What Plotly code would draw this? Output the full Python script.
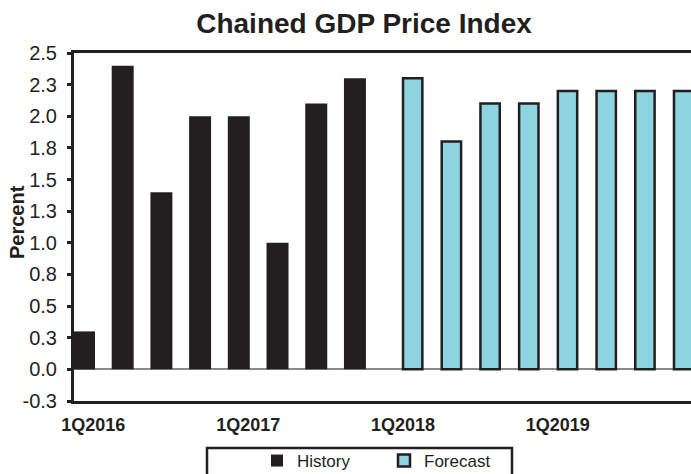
import plotly.graph_objects as go

# Quarterly chained GDP price index, percent change
quarters = [f"{q}Q{y}" for y in (2016, 2017, 2018, 2019) for q in (1, 2, 3, 4)]
history_quarters = quarters[:8]
history_values = [0.3, 2.4, 1.4, 2.0, 2.0, 1.0, 2.1, 2.3]
forecast_quarters = quarters[8:]
forecast_values = [2.3, 1.8, 2.1, 2.1, 2.2, 2.2, 2.2, 2.2]

y_tick_values = [2.5, 2.25, 2.0, 1.75, 1.5, 1.25, 1.0, 0.75, 0.5, 0.25, 0.0, -0.25]
y_tick_labels = ["2.5", "2.3", "2.0", "1.8", "1.5", "1.3", "1.0", "0.8", "0.5", "0.3", "0.0", "-0.3"]
x_label_quarters = ["1Q2016", "1Q2017", "1Q2018", "1Q2019"]

FONT = "Liberation Sans, Arial, sans-serif"
DARK = "#231f20"
BLUE = "#8dd4e0"

pos = {q: i for i, q in enumerate(quarters)}
hist_x = [pos[q] for q in history_quarters]
fc_x = [pos[q] for q in forecast_quarters]
label_x = [pos[q] for q in x_label_quarters]
boundaries = [i - 0.5 for i in range(len(quarters) + 1)]

x_range = [-0.5, 15.44]
y_range = [-0.25, 2.5]
zero_pos = (0 - y_range[0]) / (y_range[1] - y_range[0])

fig = go.Figure()
fig.add_trace(go.Bar(
    x=hist_x, y=history_values, name="History",
    offset=-0.526, width=0.568,
    marker=dict(color=DARK, line=dict(width=0)),
))
fig.add_trace(go.Bar(
    x=fc_x, y=forecast_values, name="Forecast",
    offset=0.0, width=0.5,
    marker=dict(color=BLUE, line=dict(color=DARK, width=2.5)),
))

fig.update_layout(
    width=691, height=474,
    margin=dict(l=74, r=0, t=53, b=73, autoexpand=False),
    paper_bgcolor="white", plot_bgcolor="white",
    barmode="overlay",
    font=dict(family=FONT, color=DARK),
    title=dict(
        text="<b>Chained GDP Price Index</b>",
        font=dict(family=FONT, size=28, color=DARK),
        x=364 / 691, xanchor="center", xref="container",
        y=1 - 23 / 474, yanchor="middle", yref="container",
    ),
    xaxis=dict(
        range=x_range, showgrid=False, zeroline=False,
        showline=True, linecolor=DARK, linewidth=3, mirror=True,
        tickvals=label_x, ticktext=[f"<b>{t}</b>" for t in x_label_quarters],
        ticks="outside", ticklen=5, tickcolor="rgba(0,0,0,0)",
        tickfont=dict(family=FONT, size=18, color=DARK),
    ),
    # quarter boundary ticks crossing the zero line
    xaxis2=dict(
        overlaying="x", matches="x", anchor="free", position=zero_pos,
        showline=False, showgrid=False, zeroline=False, showticklabels=False,
        tickvals=boundaries, ticks="outside", ticklen=4, tickwidth=1, tickcolor="#444",
    ),
    xaxis3=dict(
        overlaying="x", matches="x", anchor="free", position=zero_pos,
        showline=False, showgrid=False, zeroline=False, showticklabels=False,
        tickvals=boundaries, ticks="inside", ticklen=3, tickwidth=1, tickcolor="#444",
    ),
    yaxis=dict(
        range=y_range, showgrid=False,
        zeroline=True, zerolinecolor="#8a8a8a", zerolinewidth=1.5,
        showline=True, linecolor=DARK, linewidth=3,
        tickvals=y_tick_values, ticktext=y_tick_labels,
        ticks="outside", ticklen=4, tickwidth=2.5, tickcolor=DARK,
        ticklabelstandoff=6,
        tickfont=dict(family=FONT, size=20, color=DARK),
    ),
    yaxis2=dict(
        overlaying="y", matches="y", anchor="x", side="left",
        showline=False, showgrid=False, zeroline=False, showticklabels=False,
        tickvals=y_tick_values, ticks="inside", ticklen=7, tickwidth=2.5, tickcolor=DARK,
    ),
    showlegend=True,
    legend=dict(
        orientation="h", x=(257 - 74) / 617, xanchor="left",
        y=-(443 - 401) / 348, yanchor="top",
        entrywidth=82, entrywidthmode="pixels",
        font=dict(family=FONT, size=17, color=DARK),
        bgcolor="rgba(0,0,0,0)", borderwidth=0,
        traceorder="normal",
    ),
    annotations=[dict(
        text="<b>Percent</b>", textangle=-90,
        xref="paper", yref="paper",
        x=(17 - 74) / 617, y=(401 - 222) / 348,
        xanchor="center", yanchor="middle", showarrow=False,
        font=dict(family=FONT, size=20, color=DARK),
    )],
    shapes=[dict(
        type="rect", xref="paper", yref="paper",
        x0=(207 - 74) / 617, x1=(512 - 74) / 617,
        y0=-(448 - 401) / 348, y1=-(485 - 401) / 348,
        line=dict(color=DARK, width=2.5), fillcolor="rgba(0,0,0,0)",
    )],
)

fig.write_html("out.html")
